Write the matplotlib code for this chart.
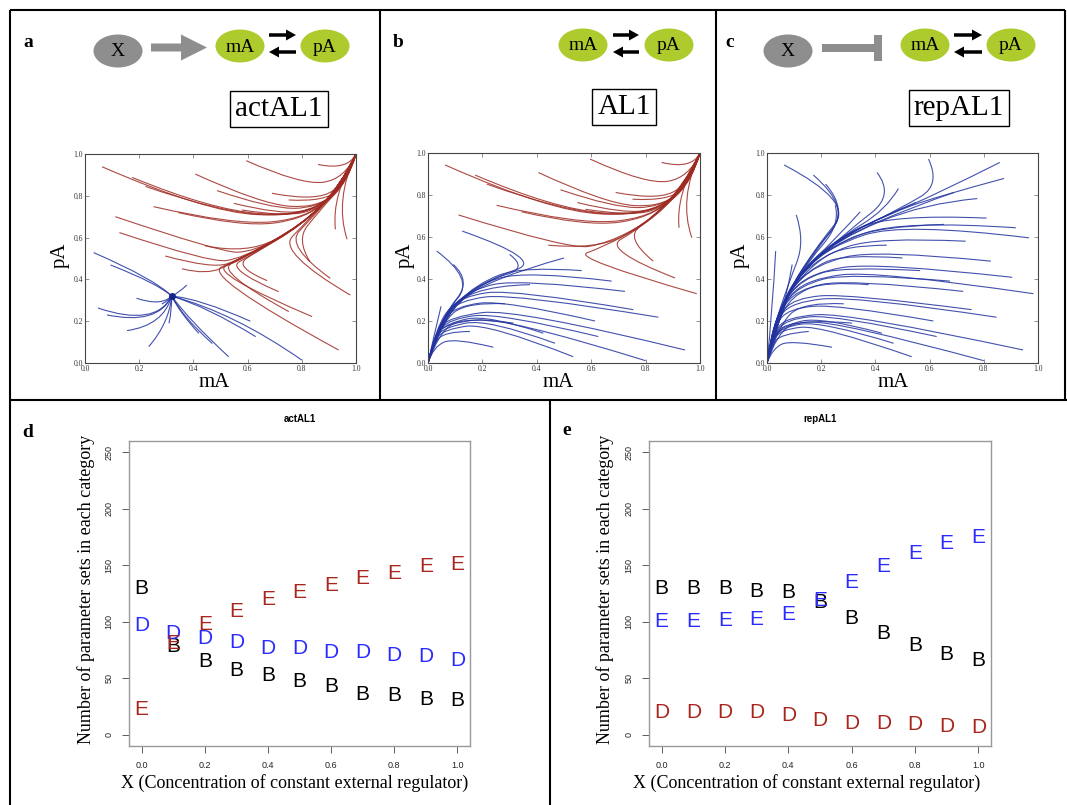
import numpy as np
import matplotlib
matplotlib.use("Agg")
import matplotlib.pyplot as plt
from matplotlib.path import Path
from matplotlib.patches import PathPatch, Ellipse, FancyArrow, Rectangle

W, H = 1067, 805

# ---- phase portraits: control points of each trajectory (mA, pA)
a_red = [
    [(0.063, 0.939), (0.45, 0.72), (0.82, 0.70), (0.96, 0.86), (1, 1)],
    [(0.174, 0.888), (0.47, 0.73), (0.82, 0.70), (0.96, 0.86), (1, 1)],
    [(0.223, 0.845), (0.50, 0.72), (0.82, 0.70), (0.96, 0.86), (1, 1)],
    [(0.253, 0.748), (0.55, 0.66), (0.82, 0.69), (0.96, 0.86), (1, 1)],
    [(0.344, 0.720), (0.58, 0.65), (0.82, 0.69), (0.96, 0.86), (1, 1)],
    [(0.407, 0.904), (0.65, 0.76), (0.86, 0.74), (0.97, 0.87), (1, 1)],
    [(0.487, 0.825), (0.68, 0.74), (0.86, 0.74), (0.97, 0.87), (1, 1)],
    [(0.549, 0.764), (0.72, 0.71), (0.86, 0.74), (0.97, 0.87), (1, 1)],
    [(0.579, 0.732), (0.74, 0.70), (0.87, 0.74), (0.97, 0.87), (1, 1)],
    [(0.595, 0.968), (0.80, 0.85), (0.96, 0.88), (1, 1)],
    [(0.690, 0.812), (0.86, 0.77), (0.97, 0.88), (1, 1)],
    [(0.752, 0.780), (0.89, 0.77), (0.97, 0.88), (1, 1)],
    [(0.860, 0.950), (0.97, 0.92), (1, 1)],
    [(0.112, 0.700), (0.50, 0.53), (0.62, 0.53), (0.80, 0.66), (0.94, 0.84), (1, 1)],
    [(0.127, 0.624), (0.46, 0.48), (0.58, 0.50), (0.80, 0.66), (0.94, 0.84), (1, 1)],
    [(0.296, 0.512), (0.47, 0.45), (0.58, 0.50), (0.80, 0.66), (0.94, 0.84), (1, 1)],
    [(0.358, 0.451), (0.45, 0.42), (0.56, 0.49), (0.80, 0.66), (0.94, 0.84), (1, 1)],
    [(0.442, 0.561), (0.60, 0.52), (0.80, 0.66), (0.94, 0.84), (1, 1)],
    [(0.936, 0.062), (0.43, 0.42), (0.58, 0.50), (0.80, 0.66), (0.94, 0.84), (1, 1)],
    [(0.838, 0.222), (0.46, 0.43), (0.58, 0.50), (0.80, 0.66), (0.94, 0.84), (1, 1)],
    [(0.752, 0.246), (0.48, 0.44), (0.60, 0.51), (0.80, 0.66), (0.94, 0.84), (1, 1)],
    [(0.715, 0.341), (0.52, 0.45), (0.62, 0.52), (0.80, 0.66), (0.94, 0.84), (1, 1)],
    [(0.672, 0.394), (0.55, 0.46), (0.64, 0.54), (0.80, 0.66), (0.94, 0.84), (1, 1)],
    [(0.979, 0.325), (0.71, 0.53), (0.82, 0.68), (0.94, 0.84), (1, 1)],
    [(0.905, 0.405), (0.74, 0.56), (0.84, 0.70), (0.94, 0.84), (1, 1)],
    [(0.830, 0.485), (0.78, 0.59), (0.86, 0.72), (0.95, 0.85), (1, 1)],
    [(0.967, 0.592), (0.92, 0.78), (1, 1)],
    [(0.924, 0.640), (0.91, 0.80), (1, 1)],
]
a_blue = [
    [(0.032, 0.528), (0.26, 0.40), (0.32, 0.32)],
    [(0.094, 0.469), (0.27, 0.38), (0.32, 0.32)],
    [(0.800, 0.014), (0.55, 0.24), (0.32, 0.32)],
    [(0.610, 0.200), (0.42, 0.31), (0.32, 0.32)],
    [(0.630, 0.126), (0.45, 0.27), (0.32, 0.32)],
    [(0.530, 0.030), (0.38, 0.21), (0.32, 0.32)],
    [(0.470, 0.093), (0.36, 0.22), (0.32, 0.32)],
    [(0.420, 0.142), (0.35, 0.24), (0.32, 0.32)],
    [(0.376, 0.373), (0.34, 0.33), (0.32, 0.32)],
    [(0.048, 0.263), (0.26, 0.17), (0.32, 0.32)],
    [(0.081, 0.230), (0.27, 0.18), (0.32, 0.32)],
    [(0.155, 0.155), (0.29, 0.18), (0.32, 0.32)],
    [(0.235, 0.078), (0.31, 0.19), (0.32, 0.32)],
    [(0.190, 0.310), (0.28, 0.27), (0.32, 0.32)],
    [(0.310, 0.190), (0.32, 0.25), (0.32, 0.32)],
    [(0.283, 0.282), (0.31, 0.30), (0.32, 0.32)],
]
a_node = (0.32, 0.32)

b_red = [
    [(0.063, 0.943), (0.45, 0.72), (0.82, 0.70), (0.96, 0.86), (1, 1)],
    [(0.173, 0.895), (0.47, 0.73), (0.82, 0.70), (0.96, 0.86), (1, 1)],
    [(0.216, 0.852), (0.50, 0.72), (0.82, 0.70), (0.96, 0.86), (1, 1)],
    [(0.252, 0.751), (0.55, 0.66), (0.82, 0.69), (0.96, 0.86), (1, 1)],
    [(0.344, 0.720), (0.58, 0.65), (0.82, 0.69), (0.96, 0.86), (1, 1)],
    [(0.406, 0.907), (0.65, 0.76), (0.86, 0.74), (0.97, 0.87), (1, 1)],
    [(0.487, 0.825), (0.68, 0.74), (0.86, 0.74), (0.97, 0.87), (1, 1)],
    [(0.549, 0.764), (0.72, 0.71), (0.86, 0.74), (0.97, 0.87), (1, 1)],
    [(0.579, 0.732), (0.74, 0.70), (0.87, 0.74), (0.97, 0.87), (1, 1)],
    [(0.596, 0.971), (0.80, 0.85), (0.96, 0.88), (1, 1)],
    [(0.690, 0.812), (0.86, 0.77), (0.97, 0.88), (1, 1)],
    [(0.752, 0.780), (0.89, 0.77), (0.97, 0.88), (1, 1)],
    [(0.859, 0.955), (0.97, 0.92), (1, 1)],
    [(0.112, 0.705), (0.52, 0.54), (0.66, 0.57), (0.82, 0.68), (0.94, 0.84), (1, 1)],
    [(0.442, 0.561), (0.62, 0.54), (0.80, 0.66), (0.94, 0.84), (1, 1)],
    [(0.988, 0.330), (0.53, 0.50), (0.64, 0.55), (0.80, 0.66), (0.94, 0.84), (1, 1)],
    [(0.908, 0.405), (0.64, 0.54), (0.78, 0.64), (0.94, 0.84), (1, 1)],
    [(0.828, 0.485), (0.72, 0.60), (0.84, 0.70), (0.95, 0.85), (1, 1)],
    [(0.970, 0.597), (0.92, 0.78), (1, 1)],
    [(0.923, 0.644), (0.91, 0.80), (1, 1)],
]
b_blue = [
    [(0.126, 0.628), (0.43, 0.49), (0.22, 0.40), (0.05, 0.22), (0, 0)],
    [(0.300, 0.517), (0.37, 0.45), (0.20, 0.39), (0.05, 0.22), (0, 0)],
    [(0.032, 0.533), (0.17, 0.40), (0.05, 0.22), (0, 0)],
    [(0.093, 0.469), (0.16, 0.39), (0.05, 0.22), (0, 0)],
    [(0.048, 0.270), (0.02, 0.12), (0, 0)],
    [(0.500, 0.500), (0.22, 0.40), (0.05, 0.22), (0, 0)],
    [(0.565, 0.440), (0.35, 0.46), (0.18, 0.38), (0.04, 0.20), (0, 0)],
    [(0.675, 0.390), (0.36, 0.44), (0.17, 0.37), (0.04, 0.20), (0, 0)],
    [(0.724, 0.341), (0.34, 0.40), (0.15, 0.35), (0.04, 0.20), (0, 0)],
    [(0.755, 0.254), (0.32, 0.35), (0.12, 0.32), (0.04, 0.19), (0, 0)],
    [(0.847, 0.218), (0.32, 0.33), (0.11, 0.30), (0.035, 0.18), (0, 0)],
    [(0.614, 0.200), (0.28, 0.30), (0.10, 0.27), (0.03, 0.17), (0, 0)],
    [(0.945, 0.062), (0.32, 0.26), (0.08, 0.22), (0.025, 0.14), (0, 0)],
    [(0.800, 0.011), (0.28, 0.22), (0.07, 0.19), (0.02, 0.12), (0, 0)],
    [(0.626, 0.126), (0.26, 0.24), (0.08, 0.21), (0.025, 0.13), (0, 0)],
    [(0.534, 0.030), (0.22, 0.19), (0.06, 0.16), (0.02, 0.10), (0, 0)],
    [(0.467, 0.094), (0.22, 0.21), (0.06, 0.17), (0.02, 0.11), (0, 0)],
    [(0.424, 0.142), (0.22, 0.23), (0.07, 0.19), (0.02, 0.12), (0, 0)],
    [(0.240, 0.075), (0.10, 0.12), (0.02, 0.08), (0, 0)],
    [(0.154, 0.150), (0.06, 0.15), (0.015, 0.08), (0, 0)],
    [(0.314, 0.190), (0.14, 0.22), (0.04, 0.15), (0, 0)],
    [(0.375, 0.373), (0.25, 0.37), (0.10, 0.30), (0.03, 0.17), (0, 0)],
    [(0.283, 0.282), (0.15, 0.29), (0.05, 0.20), (0, 0)],
]

c_blue = [
    [(0.063, 0.943), (0.32, 0.77), (0.18, 0.55), (0.06, 0.30), (0, 0)],
    [(0.171, 0.895), (0.31, 0.74), (0.17, 0.53), (0.06, 0.30), (0, 0)],
    [(0.216, 0.852), (0.30, 0.73), (0.17, 0.52), (0.06, 0.30), (0, 0)],
    [(0.252, 0.751), (0.27, 0.66), (0.15, 0.48), (0.05, 0.28), (0, 0)],
    [(0.108, 0.705), (0.14, 0.58), (0.08, 0.38), (0.02, 0.15), (0, 0)],
    [(0.032, 0.533), (0.02, 0.25), (0, 0)],
    [(0.093, 0.469), (0.07, 0.30), (0.02, 0.12), (0, 0)],
    [(0.406, 0.907), (0.47, 0.80), (0.30, 0.63), (0.10, 0.40), (0.02, 0.15), (0, 0)],
    [(0.485, 0.831), (0.44, 0.73), (0.26, 0.59), (0.10, 0.40), (0.02, 0.15), (0, 0)],
    [(0.596, 0.971), (0.64, 0.85), (0.50, 0.74), (0.26, 0.59), (0.10, 0.40), (0.02, 0.15), (0, 0)],
    [(0.344, 0.720), (0.26, 0.60), (0.10, 0.40), (0.02, 0.15), (0, 0)],
    [(0.859, 0.955), (0.62, 0.80), (0.45, 0.71), (0.26, 0.59), (0.10, 0.40), (0.02, 0.15), (0, 0)],
    [(0.875, 0.879), (0.62, 0.79), (0.45, 0.71), (0.26, 0.59), (0.10, 0.40), (0.02, 0.15), (0, 0)],
    [(0.690, 0.812), (0.55, 0.75), (0.26, 0.59), (0.10, 0.40), (0.02, 0.15), (0, 0)],
    [(0.776, 0.783), (0.58, 0.76), (0.26, 0.59), (0.10, 0.40), (0.02, 0.15), (0, 0)],
    [(0.549, 0.764), (0.45, 0.71), (0.26, 0.59), (0.10, 0.40), (0.02, 0.15), (0, 0)],
    [(0.810, 0.690), (0.45, 0.71), (0.24, 0.58), (0.10, 0.40), (0.02, 0.15), (0, 0)],
    [(0.918, 0.644), (0.50, 0.68), (0.23, 0.56), (0.09, 0.39), (0.02, 0.15), (0, 0)],
    [(0.967, 0.596), (0.50, 0.67), (0.22, 0.55), (0.09, 0.38), (0.02, 0.15), (0, 0)],
    [(0.653, 0.660), (0.40, 0.65), (0.22, 0.54), (0.09, 0.38), (0.02, 0.15), (0, 0)],
    [(0.733, 0.580), (0.40, 0.60), (0.20, 0.51), (0.08, 0.36), (0.02, 0.15), (0, 0)],
    [(0.826, 0.485), (0.40, 0.54), (0.18, 0.47), (0.07, 0.33), (0.02, 0.14), (0, 0)],
    [(0.905, 0.408), (0.40, 0.48), (0.16, 0.43), (0.06, 0.30), (0.015, 0.13), (0, 0)],
    [(0.983, 0.330), (0.40, 0.44), (0.15, 0.40), (0.055, 0.28), (0.015, 0.12), (0, 0)],
    [(0.500, 0.500), (0.28, 0.52), (0.15, 0.44), (0.06, 0.30), (0.015, 0.12), (0, 0)],
    [(0.442, 0.561), (0.28, 0.56), (0.16, 0.46), (0.06, 0.30), (0.015, 0.12), (0, 0)],
    [(0.565, 0.440), (0.28, 0.46), (0.13, 0.40), (0.05, 0.27), (0.012, 0.11), (0, 0)],
    [(0.675, 0.390), (0.30, 0.43), (0.12, 0.37), (0.045, 0.25), (0.012, 0.10), (0, 0)],
    [(0.724, 0.341), (0.30, 0.40), (0.11, 0.35), (0.04, 0.23), (0.01, 0.10), (0, 0)],
    [(0.755, 0.254), (0.30, 0.33), (0.10, 0.31), (0.035, 0.21), (0.01, 0.09), (0, 0)],
    [(0.847, 0.218), (0.32, 0.32), (0.09, 0.29), (0.03, 0.19), (0.01, 0.08), (0, 0)],
    [(0.614, 0.200), (0.26, 0.28), (0.08, 0.26), (0.025, 0.17), (0, 0)],
    [(0.945, 0.062), (0.30, 0.24), (0.07, 0.22), (0.02, 0.13), (0, 0)],
    [(0.800, 0.011), (0.26, 0.20), (0.06, 0.19), (0.02, 0.11), (0, 0)],
    [(0.626, 0.126), (0.25, 0.23), (0.07, 0.21), (0.02, 0.12), (0, 0)],
    [(0.534, 0.030), (0.20, 0.18), (0.05, 0.16), (0.015, 0.09), (0, 0)],
    [(0.467, 0.094), (0.20, 0.20), (0.05, 0.17), (0.015, 0.09), (0, 0)],
    [(0.424, 0.142), (0.20, 0.22), (0.06, 0.18), (0.015, 0.10), (0, 0)],
    [(0.240, 0.075), (0.09, 0.11), (0.02, 0.07), (0, 0)],
    [(0.154, 0.150), (0.05, 0.14), (0.012, 0.07), (0, 0)],
    [(0.314, 0.190), (0.13, 0.21), (0.035, 0.14), (0, 0)],
    [(0.375, 0.373), (0.22, 0.39), (0.09, 0.32), (0.03, 0.17), (0, 0)],
    [(0.283, 0.282), (0.14, 0.29), (0.045, 0.19), (0, 0)],
]

# ---- panels d / e: counts per category vs X
x_conc = [0.0, 0.1, 0.2, 0.3, 0.4, 0.5, 0.6, 0.7, 0.8, 0.9, 1.0]
d_B = [129, 78, 65, 57, 52, 47, 43, 36, 35, 31, 30]
d_D = [97, 90, 85, 82, 76, 76, 73, 73, 70, 69, 66]
d_E = [22, 81, 98, 109, 120, 126, 132, 138, 143, 149, 151]
e_B = [129, 129, 129, 127, 126, 117, 103, 90, 79, 71, 66]
e_E = [100, 100, 101, 102, 106, 119, 135, 149, 160, 169, 175]
e_D = [20, 20, 20, 20, 17, 13, 10, 10, 9, 7, 6]

RED = "#9e2a22"
BLUE = "#2233a0"
SERIF = "Liberation Serif"
SANS = "Liberation Sans"


def spline_path(pts):
    # quadratic B-spline through the control polygon
    pts = np.asarray(pts, dtype=float)
    verts = [pts[0]]
    codes = [Path.MOVETO]
    n = len(pts)
    for i in range(1, n - 1):
        end = pts[-1] if i == n - 2 else (pts[i] + pts[i + 1]) / 2
        verts += [pts[i], end]
        codes += [Path.CURVE3, Path.CURVE3]
    return Path(verts, codes)


def px_axes(fig, l, t, r, b):
    return fig.add_axes([l / W, 1 - b / H, (r - l) / W, (b - t) / H])


def phase_axes(ax, groups):
    for trajs, col in groups:
        for tr in trajs:
            ax.add_patch(PathPatch(spline_path(tr), fill=False, ec=col,
                                   lw=0.8, alpha=0.85))
    ax.set_xlim(0, 1)
    ax.set_ylim(0, 1)
    ticks = np.arange(0, 1.01, 0.2)
    ax.set_xticks(ticks)
    ax.set_yticks(ticks)
    ax.set_xticklabels([f"{t:.1f}" for t in ticks])
    ax.set_yticklabels([f"{t:.1f}" for t in ticks])
    ax.tick_params(direction="in", length=3, width=0.5, color="#666",
                   labelsize=5.5, pad=1.5, top=True, right=True,
                   labelcolor="#333")
    for lab in ax.get_xticklabels() + ax.get_yticklabels():
        lab.set_family(SERIF)
    for s in ax.spines.values():
        s.set_color("#444")
        s.set_linewidth(0.8)


def count_axes(ax, series, title):
    for vals, letter, col in series:
        for x, v in zip(x_conc, vals):
            ax.text(x, v, letter, color=col, fontsize=15, family=SANS,
                    ha="center", va="center")
    ax.set_xlim(-0.04, 1.04)
    ax.set_ylim(-10, 260)
    ax.set_xticks(np.arange(0, 1.01, 0.2))
    ax.set_xticklabels([f"{t:.1f}" for t in np.arange(0, 1.01, 0.2)])
    ax.set_yticks(range(0, 251, 50))
    ax.tick_params(direction="out", length=5, width=0.6, color="#444",
                   labelsize=6.5, labelcolor="#222", pad=6)
    for lab in ax.get_yticklabels():
        lab.set_rotation(90)
        lab.set_va("center")
    for lab in ax.get_xticklabels() + ax.get_yticklabels():
        lab.set_family(SANS)
    for s in ax.spines.values():
        s.set_color("#999")
        s.set_linewidth(1.0)
    ax.set_title(title, fontsize=7, fontweight="bold", family=SANS, pad=14)


fig = plt.figure(figsize=(W / 100, H / 100), dpi=100)

axa = px_axes(fig, 85, 154, 356, 363)
phase_axes(axa, [(a_red, RED), (a_blue, BLUE)])
axa.plot(*a_node, marker="o", ms=4, color="#14248a", zorder=5)

axb = px_axes(fig, 428, 153, 700, 363)
phase_axes(axb, [(b_red, RED), (b_blue, BLUE)])

axc = px_axes(fig, 767, 153, 1038, 363)
phase_axes(axc, [(c_blue, BLUE)])

axd = px_axes(fig, 129, 441, 470, 746)
count_axes(axd, [(d_B, "B", "black"), (d_D, "D", "#2b2bff"),
                 (d_E, "E", "#a8261e")], "actAL1")

axe = px_axes(fig, 649, 441, 991, 746)
count_axes(axe, [(e_B, "B", "black"), (e_E, "E", "#2b2bff"),
                 (e_D, "D", "#a8261e")], "repAL1")

# ---- overlay in pixel coordinates: frames, diagrams, labels
ov = fig.add_axes([0, 0, 1, 1])
ov.set_xlim(0, W)
ov.set_ylim(H, 0)
ov.axis("off")
ov.patch.set_alpha(0)

lw_frame = 1.5
for (x0, y0, x1, y1) in [(10, 10, 1065, 10), (10, 400, 1067, 400),
                         (10, 10, 10, 805), (380, 10, 380, 400),
                         (716, 10, 716, 400), (1065, 10, 1065, 400),
                         (550, 400, 550, 805)]:
    ov.plot([x0, x1], [y0, y1], color="black", lw=lw_frame,
            solid_capstyle="butt")

GREEN = "#aecb2e"
GRAY = "#8e8e8e"


def node(x, y, txt, col):
    ov.add_patch(Ellipse((x, y), 49, 33, color=col, lw=0))
    ov.text(x, y + 1, txt, ha="center", va="center", fontsize=14,
            family=SERIF)


def exchange(x0, x1, y):
    ov.add_patch(FancyArrow(x0, y - 9, x1 - x0, 0, width=3.5, head_width=11,
                            head_length=10, length_includes_head=True,
                            color="black", lw=0))
    ov.add_patch(FancyArrow(x1, y + 8, x0 - x1, 0, width=3.5, head_width=11,
                            head_length=10, length_includes_head=True,
                            color="black", lw=0))


# a
node(118, 51, "X", GRAY)
ov.add_patch(FancyArrow(151, 47.5, 56, 0, width=8, head_width=26,
                        head_length=26, length_includes_head=True,
                        color=GRAY, lw=0))
node(240, 46, "mA", GREEN)
exchange(269, 296, 44)
node(325, 46, "pA", GREEN)
# b
node(583, 45, "mA", GREEN)
exchange(613, 639, 44)
node(669, 45, "pA", GREEN)
# c
node(788, 51, "X", GRAY)
ov.add_patch(Rectangle((822, 44.5), 55, 8, color=GRAY, lw=0))
ov.add_patch(Rectangle((874, 35), 8, 26, color=GRAY, lw=0))
node(925, 45, "mA", GREEN)
exchange(954, 982, 44)
node(1011, 45, "pA", GREEN)

for cx, cy, txt in [(279, 109, "actAL1"), (624, 107, "AL1"), (959, 108, "repAL1")]:
    ov.text(cx, cy, txt, ha="center", va="center", fontsize=21, family=SERIF,
            bbox=dict(boxstyle="square,pad=0.18", fc="white", ec="black",
                      lw=1.0))

for x, y, s in [(23, 47, "a"), (393, 47, "b"), (725, 47, "c"),
                (22, 437, "d"), (562, 435, "e")]:
    ov.text(x, y, s, ha="left", va="baseline", fontsize=14,
            fontweight="bold", family=SERIF)

for x in (214, 558, 893):
    ov.text(x, 382, "mA", ha="center", va="center", fontsize=15, family=SERIF)
for x in (60, 405, 740):
    ov.text(x, 255, "pA", ha="center", va="center", fontsize=15,
            family=SERIF, rotation=90)

ylab = "Number of parameter sets in each category"
xlab = "X (Concentration of constant external regulator)"
for x in (86, 605):
    ov.text(x, 589, ylab, ha="center", va="center", fontsize=13,
            family=SERIF, rotation=90)
for x in (295, 807):
    ov.text(x, 783, xlab, ha="center", va="center", fontsize=13,
            family=SERIF)

fig.savefig("out.png", dpi=100)
